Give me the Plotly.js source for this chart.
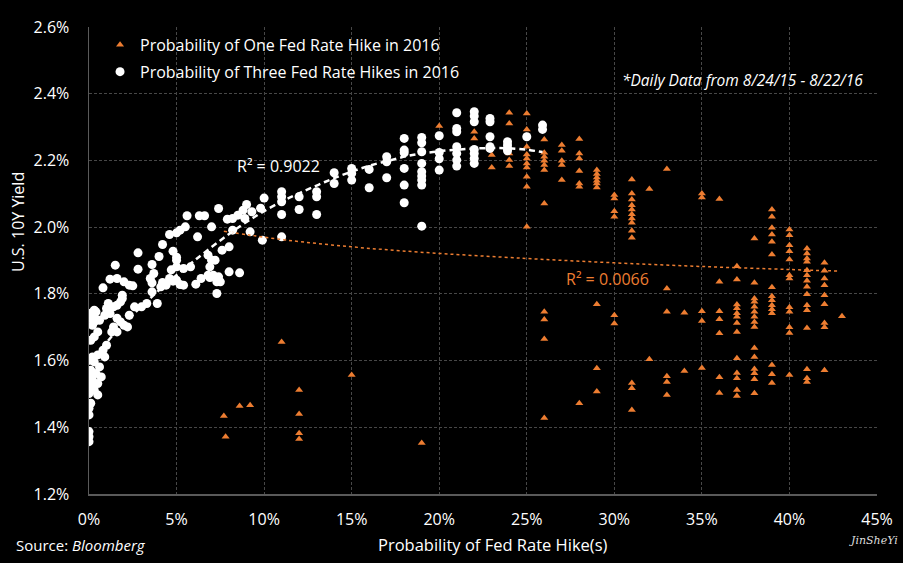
<!DOCTYPE html>
<html>
<head>
<meta charset="utf-8">
<script src="https://cdn.plot.ly/plotly-3.0.1.min.js"></script>
<style>
html,body{margin:0;padding:0;background:#000;}
#chart{width:903px;height:563px;}
</style>
</head>
<body>
<div id="chart"></div>
<script>
// Probability of ONE Fed rate hike in 2016 (%), U.S. 10Y yield (%)
const oneX = [7.7,7.8,8.6,9.2,11,12,12,12,12,15,19,20,22,22,23,23,
  24,24,24,24,24,
  25,25,25,25,25,25,25,25,25,25,
  26,26,26,26,26,26,26,26,26,26,26,
  27,27,27,27,27,
  28,28,28,28,28,28,28,
  29,29,29,29,29,29,29,29,29,
  30,30,30,30,30,30,
  31,31,31,31,31,31,31,31,31,31,31,31,31,
  32,32,
  33,33,33,33,33,33,
  34,34,
  35,35,35,35,35,
  36,36,36,36,36,36,36,
  37,37,37,37,37,37,37,37,37,37,37,37,37,
  38,38,38,38,38,38,38,38,38,38,38,38,38,38,38,
  39,39,39,39,39,39,39,39,39,39,39,39,39,39,39,
  40,40,40,40,40,40,40,40,40,40,40,40,
  41,41,41,41,41,41,41,41,41,41,41,41,41,41,41,
  42,42,42,42,42,42,42,42,42,
  43];
const oneY = [1.434,1.372,1.464,1.466,1.656,1.512,1.440,1.382,1.365,1.557,1.353,2.303,2.286,2.266,2.216,2.179,
  2.343,2.311,2.221,2.201,2.183,
  2.341,2.293,2.241,2.218,2.206,2.191,2.179,2.151,2.121,2.001,
  2.263,2.223,2.211,2.199,2.186,2.171,2.071,1.746,1.723,1.665,1.428,
  2.246,2.229,2.199,2.186,2.141,
  2.264,2.221,2.206,2.168,2.131,2.121,1.472,
  2.171,2.159,2.149,2.139,2.131,2.119,1.769,1.577,1.507,
  2.096,2.086,2.048,2.031,1.736,1.711,
  2.143,2.101,2.083,2.066,2.053,2.039,2.026,2.013,1.989,1.968,1.533,1.517,1.452,
  2.114,1.604,
  2.174,1.816,1.746,1.553,1.536,1.497,
  1.743,1.569,
  2.101,2.089,1.748,1.719,1.578,
  2.084,1.836,1.748,1.724,1.682,1.550,1.503,
  1.883,1.843,1.768,1.757,1.742,1.731,1.713,1.686,1.607,1.563,1.547,1.512,1.494,
  1.966,1.833,1.786,1.776,1.761,1.746,1.731,1.716,1.701,1.638,1.611,1.575,1.562,1.544,1.502,
  2.053,2.031,1.998,1.978,1.956,1.918,1.820,1.793,1.781,1.766,1.754,1.742,1.587,1.559,1.533,
  1.993,1.976,1.946,1.928,1.903,1.856,1.846,1.760,1.746,1.700,1.683,1.557,
  1.936,1.921,1.906,1.896,1.871,1.856,1.839,1.821,1.799,1.766,1.751,1.698,1.574,1.547,1.536,
  1.893,1.869,1.846,1.826,1.796,1.769,1.713,1.700,1.571,
  1.733];

// Probability of THREE Fed rate hikes in 2016 (%), U.S. 10Y yield (%)
const threeX = [0.0,0.0,0.0,0.0,0.0,0.1,0.5,0.0,0.3,0.1,0.5,0.2,0.0,0.7,0.4,0.1,0.6,0.3,0.0,0.2,
  0.9,0.5,0.8,1.0,0.1,0.3,0.5,1.3,1.6,1.4,0.2,2.0,2.2,0.3,1.8,0.6,0.1,1.6,0.3,0.9,
  2.3,1.2,0.1,0.4,0.3,1.0,1.4,2.6,3.0,1.6,1.1,3.3,3.9,1.8,1.9,1.9,3.6,0.8,4.1,2.5,
  2.3,4.4,5.4,5.2,6.1,3.6,4.2,2.0,7.3,7.5,4.8,5.0,1.2,1.6,3.5,4.6,6.4,6.9,7.4,6.8,
  7.1,3.7,8.6,8.0,4.7,2.8,5.4,5.8,6.9,5.0,1.5,3.6,5.0,7.0,7.2,4.0,5.0,6.8,2.8,4.8,
  7.6,8.0,4.2,6.2,4.6,5.0,5.2,8.2,9.2,5.5,7.0,7.9,8.2,8.9,5.6,6.3,6.6,8.5,9.3,8.8,
  7.4,9.8,9.0,10.0,7.3,9.9,
  11,11,11,11,11,12,12,13,13,13,14,14,15,15,15,16,16,17,17,17,
  18,18,18,18,18,18,19,19,19,19,19,19,19,19,19,20,20,20,20,
  21,21,21,21,21,21,21,22,22,22,22,22,22,22,
  22.9,22.9,22.9,22.9,22.9,23.9,23.9,23.9,23.9,25,25.9,25.9];
const threeY = [1.357,1.372,1.387,1.437,1.457,1.472,1.497,1.501,1.511,1.521,1.531,1.541,1.551,1.551,1.561,1.571,1.581,1.596,1.601,1.611,
  1.611,1.617,1.631,1.646,1.661,1.671,1.686,1.686,1.686,1.701,1.706,1.706,1.701,1.716,1.716,1.721,1.727,1.727,1.731,1.736,
  1.736,1.741,1.742,1.746,1.751,1.756,1.761,1.761,1.761,1.766,1.771,1.771,1.771,1.776,1.786,1.796,1.806,1.818,1.821,1.824,
  1.826,1.826,1.826,1.828,1.829,1.833,1.834,1.836,1.836,1.836,1.838,1.841,1.844,1.846,1.846,1.846,1.846,1.849,1.851,1.856,
  1.856,1.861,1.863,1.866,1.872,1.874,1.876,1.881,1.881,1.881,1.886,1.888,1.901,1.901,1.901,1.912,1.910,1.916,1.923,1.928,
  1.931,1.941,1.948,1.971,1.978,1.983,1.991,1.991,1.986,2.001,2.001,2.024,2.026,2.026,2.034,2.034,2.034,2.036,2.046,2.051,
  2.056,2.057,2.068,2.087,1.801,1.961,
  2.106,2.091,2.076,2.038,1.971,2.091,2.053,2.106,2.091,2.038,2.163,2.131,2.176,2.161,2.141,2.173,2.118,2.211,2.196,2.148,
  2.266,2.231,2.223,2.176,2.126,2.073,2.269,2.253,2.226,2.191,2.166,2.153,2.141,2.126,2.003,2.274,2.224,2.205,2.171,
  2.343,2.296,2.286,2.241,2.221,2.201,2.183,2.346,2.333,2.316,2.233,2.221,2.206,2.191,
  2.326,2.316,2.271,2.241,2.236,2.256,2.246,2.236,2.229,2.271,2.306,2.293];

// Trendlines
const oneTrendX = [7.7, 9.2, 11.3, 15, 18.9, 25, 30, 35, 40, 42.9];
const oneTrendY = [1.988, 1.976, 1.961, 1.941, 1.925, 1.906, 1.893, 1.882, 1.873, 1.868];
const threeTrendX = [0, 0.53, 1.49, 3.2, 4.15, 5.67, 6.63, 7.96, 9.49, 11.01, 12.06, 13.1, 14.15, 15.3,
  16.34, 17.39, 18.15, 18.9, 20.06, 21.2, 22.15, 23.1, 24.06, 25.0, 25.9];
const threeTrendY = [1.59, 1.622, 1.684, 1.772, 1.818, 1.885, 1.925, 1.978, 2.032, 2.077, 2.103, 2.127, 2.150, 2.172,
  2.189, 2.203, 2.213, 2.220, 2.228, 2.233, 2.236, 2.237, 2.236, 2.232, 2.225];

const oneName = "Probability of One Fed Rate Hike in 2016";
const threeName = "Probability of Three Fed Rate Hikes in 2016";
const oneR2 = "R² = 0.0066";
const threeR2 = "R² = 0.9022";
const noteText = "*Daily Data from 8/24/15 - 8/22/16";
const xTitle = "Probability of Fed Rate Hike(s)";
const yTitle = "U.S. 10Y Yield";

const ORANGE = "#ED7D31";
const FONT = "Open Sans, Noto Sans, sans-serif";
const GRID = "#474747";

const traces = [
  {x: oneX, y: oneY, type: "scatter", mode: "markers", name: oneName, legendgroup: "a",
   marker: {symbol: "triangle-up", size: 7, color: ORANGE}},
  {x: threeX, y: threeY, type: "scatter", mode: "markers", name: threeName, legendgroup: "b",
   marker: {symbol: "circle", size: 9, color: "#FFFFFF"}},
  {x: oneTrendX, y: oneTrendY, type: "scatter", mode: "lines", showlegend: false, hoverinfo: "skip",
   line: {color: ORANGE, width: 1.5, dash: "dot", shape: "spline"}},
  {x: threeTrendX, y: threeTrendY, type: "scatter", mode: "lines", showlegend: false, hoverinfo: "skip",
   line: {color: "#FFFFFF", width: 2.5, dash: "6px,4px", shape: "spline"}}
];

const layout = {
  width: 903, height: 563,
  paper_bgcolor: "#000000", plot_bgcolor: "#000000",
  margin: {l: 89, r: 26, t: 27, b: 69},
  font: {family: FONT, color: "#FFFFFF", size: 16},
  showlegend: true,
  legend: {x: 0.014, y: 0.998, xanchor: "left", yanchor: "top", bgcolor: "rgba(0,0,0,0)",
    font: {size: 16, color: "#FFFFFF", family: FONT}, tracegroupgap: 3, itemwidth: 30},
  xaxis: {range: [0, 45], dtick: 5, tick0: 0, ticksuffix: "%", tickformat: "d",
    showgrid: true, gridcolor: GRID, griddash: "3px,2px", gridwidth: 1,
    showline: true, linecolor: "#5a5a5a", linewidth: 1.5, zeroline: false,
    ticks: "", ticklabelstandoff: 10, tickfont: {size: 16, color: "#FFFFFF"}},
  yaxis: {range: [1.2, 2.6], dtick: 0.2, tick0: 1.2, ticksuffix: "%", tickformat: ".1f",
    showgrid: true, gridcolor: GRID, griddash: "3px,2px", gridwidth: 1,
    showline: true, linecolor: "#5a5a5a", linewidth: 1.5, zeroline: false,
    ticks: "", ticklabelstandoff: 15, tickfont: {size: 16, color: "#FFFFFF"}},
  annotations: [
    {text: threeR2, xref: "x", yref: "y", x: 10.8, y: 2.183, showarrow: false,
     font: {size: 16, color: "#FFFFFF"}},
    {text: oneR2, xref: "x", yref: "y", x: 29.6, y: 1.844, showarrow: false,
     font: {size: 16, color: ORANGE}},
    {text: "<i>" + noteText + "</i>", xref: "paper", yref: "paper", x: 0.985, y: 0.8865,
     xanchor: "right", yanchor: "middle", showarrow: false, font: {size: 15.5, color: "#FFFFFF"}},
    {text: xTitle, xref: "paper", yref: "paper", x: 0.5127, y: -0.109, xanchor: "center",
     yanchor: "middle", showarrow: false, font: {size: 16.5, color: "#FFFFFF"}},
    {text: yTitle, xref: "paper", yref: "paper", x: -0.0901, y: 0.5824, xanchor: "center",
     yanchor: "middle", textangle: -90, showarrow: false, font: {size: 16, color: "#FFFFFF"}},
    {text: "Source: <i>Bloomberg</i>", xref: "paper", yref: "paper", x: -0.0952, y: -0.109,
     xanchor: "left", yanchor: "middle", showarrow: false, font: {size: 15, color: "#FFFFFF"}},
    {text: "<i>JinSheYi</i>", xref: "paper", yref: "paper", x: 1.029, y: -0.1,
     xanchor: "right", yanchor: "middle", showarrow: false,
     font: {size: 11, color: "#DDDDDD", family: "DejaVu Serif, serif"}}
  ]
};

Plotly.newPlot("chart", traces, layout, {displayModeBar: false, staticPlot: true});
</script>
</body>
</html>
